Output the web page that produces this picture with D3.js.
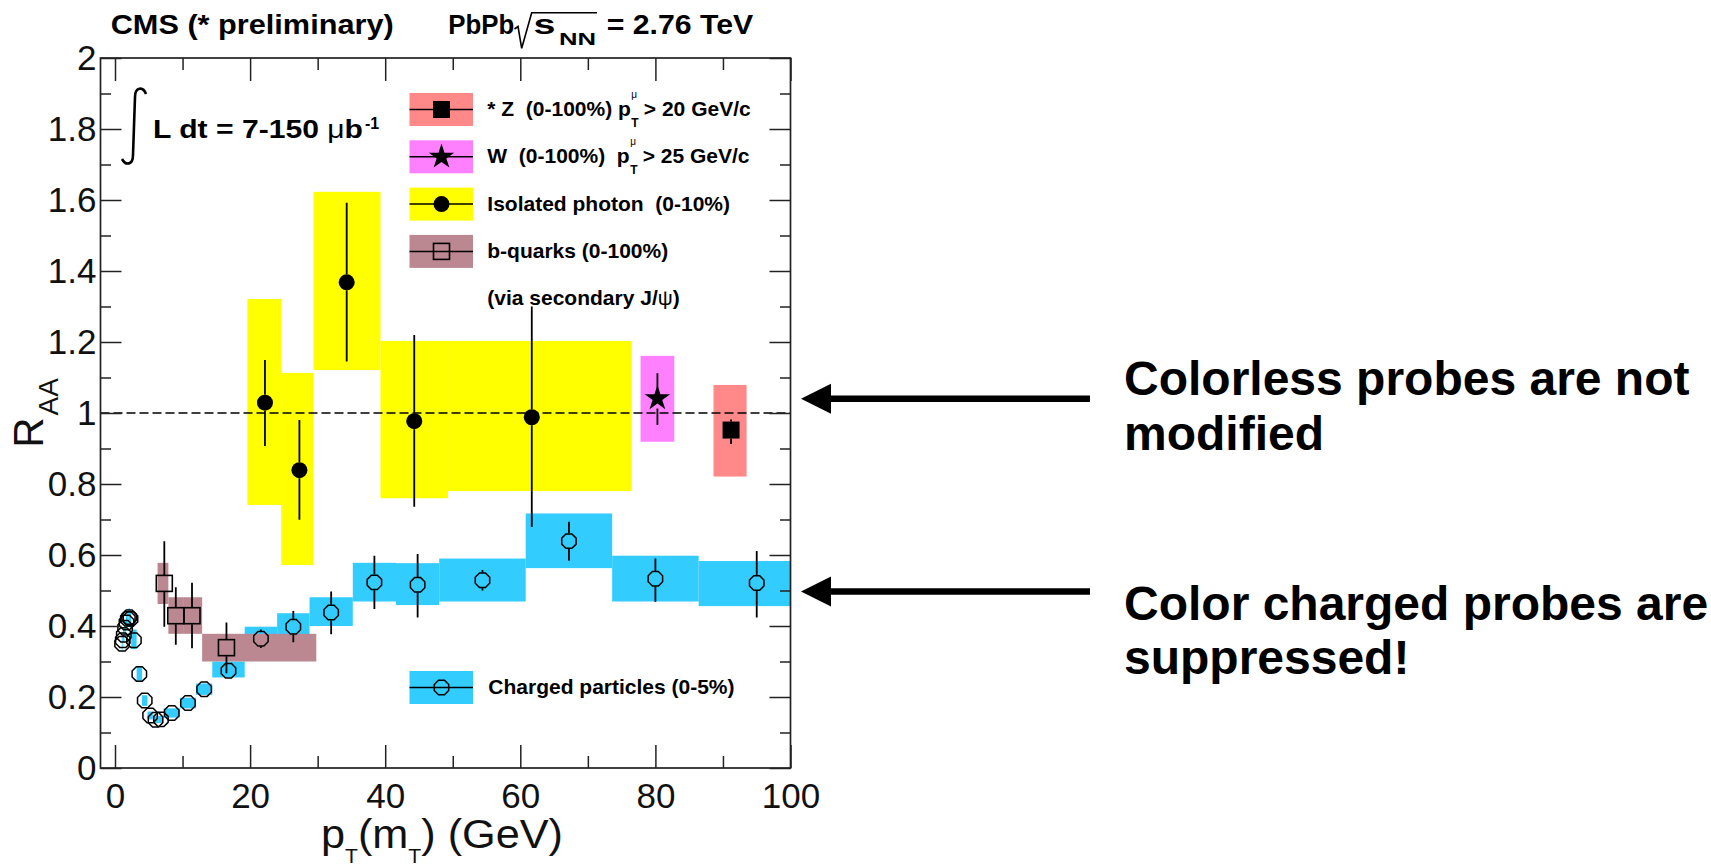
<!DOCTYPE html>
<html>
<head>
<meta charset="utf-8">
<script src="https://cdn.jsdelivr.net/npm/d3@7"></script>
<style>
  body { margin: 0; background: #fff; }
  svg text { font-family: "Liberation Sans", Arial, Helvetica, sans-serif; white-space: pre; }
</style>
</head>
<body>
<div id="chart"></div>
<script>
const w = 1711,
      h = 868;

// axis ticks
const xTicks = [0, 20, 40, 60, 80, 100],
      xTickLabels = ['0', '20', '40', '60', '80', '100'],
      xMinor = [10, 30, 50, 70, 90];
const yTicks = [0, 0.2, 0.4, 0.6, 0.8, 1.0, 1.2, 1.4, 1.6, 1.8, 2.0],
      yTickLabels = ['0', '0.2', '0.4', '0.6', '0.8', '1', '1.2', '1.4', '1.6', '1.8', '2'],
      yMinor = [0.1, 0.3, 0.5, 0.7, 0.9, 1.1, 1.3, 1.5, 1.7, 1.9];

// charged particles (0-5%)
const chargedPtLow  = [1.0, 1.1, 1.2, 1.4, 1.6, 1.8, 2.0, 2.2, 2.4, 3.2, 4.0, 4.8, 5.6, 6.4, 7.2, 9.6, 12.0, 14.4, 19.2, 24.0, 28.8, 35.2, 41.6, 48.0, 60.8, 73.6, 86.4];
const chargedPtHigh = [1.1, 1.2, 1.4, 1.6, 1.8, 2.0, 2.2, 2.4, 3.2, 4.0, 4.8, 5.6, 6.4, 7.2, 9.6, 12.0, 14.4, 19.2, 24.0, 28.8, 35.2, 41.6, 48.0, 60.8, 73.6, 86.4, 103.6];
const chargedPt     = [1.05, 1.15, 1.3, 1.5, 1.7, 1.9, 2.1, 2.3, 2.8, 3.6, 4.4, 5.2, 6.0, 6.8, 8.4, 10.8, 13.2, 16.8, 21.6, 26.4, 32.0, 38.4, 44.8, 54.4, 67.2, 80.0, 95.0];
const chargedRaa    = [0.35, 0.36, 0.375, 0.395, 0.41, 0.42, 0.425, 0.42, 0.36, 0.265, 0.19, 0.148, 0.136, 0.137, 0.155, 0.183, 0.222, 0.274, 0.364, 0.398, 0.438, 0.523, 0.516, 0.529, 0.639, 0.533, 0.521];
const chargedStatLo = [0.345, 0.355, 0.37, 0.39, 0.405, 0.415, 0.42, 0.415, 0.355, 0.26, 0.185, 0.143, 0.131, 0.132, 0.15, 0.178, 0.217, 0.268, 0.338, 0.354, 0.377, 0.448, 0.424, 0.5, 0.584, 0.468, 0.424];
const chargedStatHi = [0.355, 0.365, 0.38, 0.40, 0.415, 0.425, 0.43, 0.425, 0.365, 0.27, 0.195, 0.153, 0.141, 0.142, 0.16, 0.188, 0.227, 0.28, 0.39, 0.442, 0.497, 0.598, 0.603, 0.558, 0.694, 0.59, 0.611];
const chargedSysLo  = [0.33, 0.34, 0.355, 0.375, 0.39, 0.40, 0.40, 0.395, 0.335, 0.245, 0.175, 0.137, 0.126, 0.127, 0.142, 0.168, 0.206, 0.255, 0.33, 0.36, 0.40, 0.469, 0.459, 0.469, 0.563, 0.469, 0.456];
const chargedSysHi  = [0.37, 0.38, 0.395, 0.415, 0.43, 0.44, 0.45, 0.445, 0.39, 0.285, 0.205, 0.159, 0.146, 0.147, 0.168, 0.198, 0.238, 0.30, 0.398, 0.436, 0.481, 0.578, 0.577, 0.59, 0.717, 0.598, 0.583];

// isolated photons (0-10%)
const photonPt      = [22.2, 27.3, 34.3, 44.3, 61.7];
const photonRaa     = [1.029, 0.839, 1.368, 0.977, 0.988];
const photonStatLo  = [0.907, 0.699, 1.145, 0.736, 0.679];
const photonStatHi  = [1.149, 0.98, 1.592, 1.22, 1.30];
const photonBoxLow  = [19.6, 24.6, 29.4, 39.3, 49.3];
const photonBoxHigh = [24.6, 29.4, 39.3, 49.3, 76.5];
const photonSysLo   = [0.741, 0.572, 1.121, 0.76, 0.78];
const photonSysHi   = [1.321, 1.113, 1.623, 1.203, 1.203];

// W (0-100%)
const wPt = [80.3], wRaa = [1.041], wStatLo = [0.966], wStatHi = [1.112],
      wBoxLow = [77.8], wBoxHigh = [82.8], wSysLo = [0.919], wSysHi = [1.161];

// Z (0-100%)
const zPt = [91.2], zRaa = [0.952], zStatLo = [0.913], zStatHi = [0.982],
      zBoxLow = [88.6], zBoxHigh = [93.5], zSysLo = [0.821], zSysHi = [1.079];

// b-quarks via secondary J/psi
const bPt      = [7.3, 9.0, 11.4, 16.5];
const bRaa     = [0.52, 0.429, 0.429, 0.339];
const bStatLo  = [0.398, 0.347, 0.337, 0.267];
const bStatHi  = [0.639, 0.509, 0.522, 0.41];
const bBoxLow  = [6.3, 7.9, 10.2, 12.9];
const bBoxHigh = [7.9, 10.2, 12.9, 29.8];
const bSysLo   = [0.462, 0.378, 0.378, 0.30];
const bSysHi   = [0.578, 0.481, 0.481, 0.378];

const legendLabels  = ['* Z  (0-100%) p', 'W  (0-100%)  p', 'Isolated photon  (0-10%)', 'b-quarks (0-100%)'];
const legendCuts    = ['> 20 GeV/c', '> 25 GeV/c', null, null];

const cyan = '#33ccff', yellow = '#ffff00', magenta = '#ff80ff', salmon = '#ff8888', mauve = '#bb8892';
const font = '"Liberation Sans", Arial, Helvetica, sans-serif';

const frame = { left: 100.5, right: 790.5, top: 58, bottom: 768 };

const xScale = d3.scaleLinear().domain([0, 100]).range([115, 790.5]);
const yScale = d3.scaleLinear().domain([0, 2]).range([768, 58]);

const svg = d3.select('#chart').append('svg')
  .attr('width', w)
  .attr('height', h)
  .style('background', '#fff');

svg.append('defs').append('clipPath').attr('id', 'plotClip')
  .append('rect')
  .attr('x', frame.left).attr('y', frame.top)
  .attr('width', frame.right - frame.left)
  .attr('height', frame.bottom - frame.top);

const plot = svg.append('g').attr('clip-path', 'url(#plotClip)');

function boxes(lo, hi, yLo, yHi, color) {
  plot.append('g').selectAll('rect')
    .data(lo)
    .join('rect')
    .attr('x', (d, i) => xScale(lo[i]))
    .attr('width', (d, i) => xScale(hi[i]) - xScale(lo[i]))
    .attr('y', (d, i) => yScale(yHi[i]))
    .attr('height', (d, i) => yScale(yLo[i]) - yScale(yHi[i]))
    .attr('fill', color);
}

boxes(chargedPtLow, chargedPtHigh, chargedSysLo, chargedSysHi, cyan);
boxes(bBoxLow, bBoxHigh, bSysLo, bSysHi, mauve);
boxes(photonBoxLow, photonBoxHigh, photonSysLo, photonSysHi, yellow);
boxes(wBoxLow, wBoxHigh, wSysLo, wSysHi, magenta);
boxes(zBoxLow, zBoxHigh, zSysLo, zSysHi, salmon);

// reference line at RAA = 1
plot.append('line')
  .attr('x1', frame.left).attr('x2', frame.right)
  .attr('y1', yScale(1)).attr('y2', yScale(1))
  .attr('stroke', '#000')
  .attr('stroke-width', 1.5)
  .attr('stroke-dasharray', '9,4');

function octagon(r) {
  let pts = d3.range(8).map(k => {
    let a = Math.PI / 8 + k * Math.PI / 4;
    return [r * Math.cos(a), r * Math.sin(a)];
  });
  return d3.line()(pts) + 'Z';
}

const markerSize = { circle: 8, octagon: 7.8, square: 8.5, openSquare: 8.5, star: 10 };

function marker(g, type) {
  if (type === 'circle') {
    g.append('circle').attr('r', 8).attr('fill', '#000');
  } else if (type === 'octagon') {
    g.append('path').attr('d', octagon(7.8)).attr('fill', 'none').attr('stroke', '#000').attr('stroke-width', 1.5);
  } else if (type === 'square') {
    g.append('rect').attr('x', -8.5).attr('y', -8.5).attr('width', 17).attr('height', 17).attr('fill', '#000');
  } else if (type === 'openSquare') {
    g.append('rect').attr('x', -8).attr('y', -8).attr('width', 16).attr('height', 16)
      .attr('fill', 'none').attr('stroke', '#000').attr('stroke-width', 1.6);
  } else if (type === 'star') {
    g.append('path').attr('d', d3.symbol(d3.symbolStar, 200)()).attr('fill', '#000');
  }
}

function series(pt, val, lo, hi, type) {
  let r = markerSize[type];
  let g = plot.append('g');
  g.selectAll('path.err')
    .data(pt)
    .join('path')
    .attr('class', 'err')
    .attr('fill', 'none')
    .attr('stroke', '#000')
    .attr('stroke-width', 1.8)
    .attr('d', (d, i) => {
      let x = xScale(pt[i]), yv = yScale(val[i]), yh = yScale(hi[i]), yl = yScale(lo[i]);
      let s = '';
      if (yh < yv - r) s += `M${x},${yh}V${yv - r}`;
      if (yl > yv + r) s += `M${x},${yv + r}V${yl}`;
      return s || null;
    });
  g.selectAll('g.mk')
    .data(pt)
    .join('g')
    .attr('class', 'mk')
    .attr('transform', (d, i) => `translate(${xScale(pt[i])},${yScale(val[i])})`)
    .each(function() { marker(d3.select(this), type); });
}

series(chargedPt, chargedRaa, chargedStatLo, chargedStatHi, 'octagon');
series(bPt, bRaa, bStatLo, bStatHi, 'openSquare');
series(photonPt, photonRaa, photonStatLo, photonStatHi, 'circle');
series(wPt, wRaa, wStatLo, wStatHi, 'star');
series(zPt, zRaa, zStatLo, zStatHi, 'square');

// axes, ticks pointing inward on all four sides
function styleAxis(g, labelSize) {
  g.select('.domain').remove();
  g.attr('font-family', font).attr('font-size', labelSize);
  g.selectAll('line').attr('stroke', '#222').attr('stroke-width', 1.5);
  g.selectAll('text').attr('fill', '#111');
}

svg.append('g')
  .attr('transform', `translate(0,${frame.bottom})`)
  .call(d3.axisBottom(xScale).tickValues(xTicks).tickSize(-23).tickPadding(15).tickFormat((d, i) => xTickLabels[i]))
  .call(g => styleAxis(g, 35));
svg.append('g')
  .attr('transform', `translate(0,${frame.bottom})`)
  .call(d3.axisBottom(xScale).tickValues(xMinor).tickSize(-12).tickFormat(''))
  .call(g => styleAxis(g, 35));
svg.append('g')
  .attr('transform', `translate(0,${frame.top})`)
  .call(d3.axisTop(xScale).tickValues(xTicks).tickSize(-23).tickFormat(''))
  .call(g => styleAxis(g, 35));
svg.append('g')
  .attr('transform', `translate(0,${frame.top})`)
  .call(d3.axisTop(xScale).tickValues(xMinor).tickSize(-12).tickFormat(''))
  .call(g => styleAxis(g, 35));

svg.append('g')
  .attr('transform', `translate(${frame.left},0)`)
  .call(d3.axisLeft(yScale).tickValues(yTicks).tickSize(-21).tickPadding(4).tickFormat((d, i) => yTickLabels[i]))
  .call(g => styleAxis(g, 35));
svg.append('g')
  .attr('transform', `translate(${frame.left},0)`)
  .call(d3.axisLeft(yScale).tickValues(yMinor).tickSize(-10.5).tickFormat(''))
  .call(g => styleAxis(g, 35));
svg.append('g')
  .attr('transform', `translate(${frame.right},0)`)
  .call(d3.axisRight(yScale).tickValues(yTicks).tickSize(-21).tickFormat(''))
  .call(g => styleAxis(g, 35));
svg.append('g')
  .attr('transform', `translate(${frame.right},0)`)
  .call(d3.axisRight(yScale).tickValues(yMinor).tickSize(-10.5).tickFormat(''))
  .call(g => styleAxis(g, 35));

svg.append('rect')
  .attr('x', frame.left).attr('y', frame.top)
  .attr('width', frame.right - frame.left)
  .attr('height', frame.bottom - frame.top)
  .attr('fill', 'none')
  .attr('stroke', '#222')
  .attr('stroke-width', 1.7);

// axis titles
let xt = svg.append('text')
  .attr('x', 321)
  .attr('y', 848)
  .attr('font-size', 41)
  .attr('fill', '#111')
  .attr('textLength', 242)
  .attr('lengthAdjust', 'spacingAndGlyphs');
xt.append('tspan').text('p');
xt.append('tspan').attr('font-size', 20).attr('dy', 15).text('T');
xt.append('tspan').attr('dy', -15).text('(m');
xt.append('tspan').attr('font-size', 20).attr('dy', 15).text('T');
xt.append('tspan').attr('dy', -15).text(') (GeV)');

let yt = svg.append('text')
  .attr('transform', 'translate(43,413) rotate(-90)')
  .attr('text-anchor', 'middle')
  .attr('font-size', 42)
  .attr('fill', '#111');
yt.append('tspan').text('R');
yt.append('tspan').attr('font-size', 28).attr('dy', 14.5).attr('dx', 2).text('AA');

// header
svg.append('text')
  .attr('x', 110.7).attr('y', 34.3)
  .attr('font-size', 27).attr('font-weight', 'bold')
  .attr('textLength', 283).attr('lengthAdjust', 'spacingAndGlyphs')
  .text('CMS (* preliminary)');
svg.append('text')
  .attr('x', 448.3).attr('y', 34.3)
  .attr('font-size', 27).attr('font-weight', 'bold')
  .attr('textLength', 66).attr('lengthAdjust', 'spacingAndGlyphs')
  .text('PbPb');
svg.append('path')
  .attr('d', 'M514.5,29 L518,26.5 L521.7,48.3 L531.7,12.7 L597,12.7')
  .attr('fill', 'none').attr('stroke', '#000').attr('stroke-width', 1.6);
svg.append('text')
  .attr('x', 533.5).attr('y', 34.3)
  .attr('font-size', 28).attr('font-weight', 'bold')
  .attr('textLength', 22).attr('lengthAdjust', 'spacingAndGlyphs')
  .text('s');
svg.append('text')
  .attr('x', 559).attr('y', 45)
  .attr('font-size', 16).attr('font-weight', 'bold')
  .attr('textLength', 37).attr('lengthAdjust', 'spacingAndGlyphs')
  .text('NN');
svg.append('text')
  .attr('x', 606.7).attr('y', 34.3)
  .attr('font-size', 27).attr('font-weight', 'bold')
  .attr('textLength', 146.6).attr('lengthAdjust', 'spacingAndGlyphs')
  .text('= 2.76 TeV');

// integrated luminosity
svg.append('path')
  .attr('d', 'M146,94 C143,86 135,87 135,97 L133,155 C133,165 126,166 122,159')
  .attr('fill', 'none').attr('stroke', '#000').attr('stroke-width', 2.6);
let lumi = svg.append('text')
  .attr('x', 153).attr('y', 138.3)
  .attr('font-size', 26).attr('font-weight', 'bold')
  .attr('textLength', 210).attr('lengthAdjust', 'spacingAndGlyphs');
lumi.append('tspan').text('L dt = 7-150 ');
lumi.append('tspan').attr('font-weight', 'normal').text('\u03bc');
lumi.append('tspan').text('b');
svg.append('text')
  .attr('x', 365).attr('y', 128.5)
  .attr('font-size', 16).attr('font-weight', 'bold')
  .text('-1');

// legend
const legendColors  = [salmon, magenta, yellow, mauve];
const legendMarkers = ['square', 'star', 'circle', 'openSquare'];

function legendEntry(cy, color, type) {
  svg.append('rect')
    .attr('x', 409.5).attr('y', cy - 16.5)
    .attr('width', 63.5).attr('height', 33)
    .attr('fill', color);
  svg.append('line')
    .attr('x1', 409.5).attr('x2', 473)
    .attr('y1', cy).attr('y2', cy)
    .attr('stroke', '#000').attr('stroke-width', 1.5);
  marker(svg.append('g').attr('transform', `translate(441.5,${cy})`), type);
}

legendLabels.forEach((label, i) => {
  let cy = 109.5 + i * 47.3;
  legendEntry(cy, legendColors[i], legendMarkers[i]);
  let t = svg.append('text')
    .attr('x', 487.3).attr('y', cy + 6.5)
    .attr('font-size', 21).attr('font-weight', 'bold')
    .text(label);
  if (legendCuts[i]) {
    let end = 487.3 + t.node().getComputedTextLength();
    svg.append('text')
      .attr('x', end + 0.5).attr('y', cy - 11.5)
      .attr('font-size', 10)
      .text('\u03bc');
    svg.append('text')
      .attr('x', end + 0.5).attr('y', cy + 17)
      .attr('font-size', 12).attr('font-weight', 'bold')
      .text('T');
    svg.append('text')
      .attr('x', end + 13).attr('y', cy + 6.5)
      .attr('font-size', 21).attr('font-weight', 'bold')
      .text(legendCuts[i]);
  }
});

svg.append('text')
  .attr('x', 487.3).attr('y', 305)
  .attr('font-size', 21).attr('font-weight', 'bold')
  .text('(via secondary J/')
  .append('tspan').attr('font-weight', 'normal').text('\u03c8')
  .append('tspan').attr('font-weight', 'bold').text(')');

legendEntry(687.5, cyan, 'octagon');
svg.append('text')
  .attr('x', 488.3).attr('y', 694)
  .attr('font-size', 21).attr('font-weight', 'bold')
  .text('Charged particles (0-5%)');

// annotations with arrows
const notes = [
  { yValue: 1.04, lines: ['Colorless probes are not', 'modified'], baselines: [395, 450] },
  { yValue: 0.497, lines: ['Color charged probes are', 'suppressed!'], baselines: [620, 674] }
];

notes.forEach(n => {
  let ay = yScale(n.yValue);
  svg.append('line')
    .attr('x1', 1090).attr('x2', 828)
    .attr('y1', ay).attr('y2', ay)
    .attr('stroke', '#000').attr('stroke-width', 6.5);
  svg.append('path')
    .attr('d', `M801,${ay} L831,${ay - 15} L831,${ay + 15} Z`)
    .attr('fill', '#000');
  n.lines.forEach((line, j) => {
    svg.append('text')
      .attr('x', 1124).attr('y', n.baselines[j])
      .attr('font-size', 48).attr('font-weight', 'bold')
      .text(line);
  });
});
</script>
</body>
</html>
